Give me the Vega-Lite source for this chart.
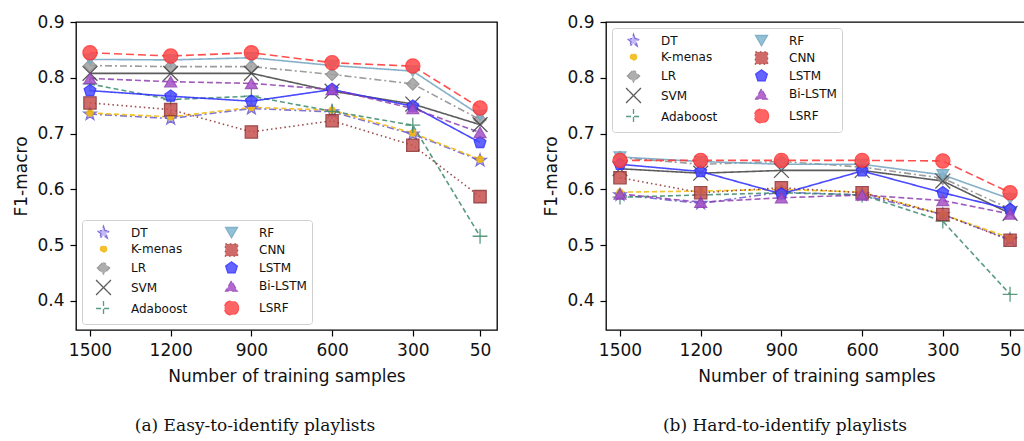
{
  "$schema": "https://vega.github.io/schema/vega-lite/v6.json",
  "background": "white",
  "padding": {"left": 12, "top": 12, "right": 0, "bottom": 0},
  "datasets": {
    "easy": [
      {"model": "DT", "n": 1500, "f1": 0.735}, {"model": "DT", "n": 1200, "f1": 0.727}, {"model": "DT", "n": 900, "f1": 0.745}, {"model": "DT", "n": 600, "f1": 0.739}, {"model": "DT", "n": 300, "f1": 0.699}, {"model": "DT", "n": 50, "f1": 0.652},
      {"model": "K-menas", "n": 1500, "f1": 0.737}, {"model": "K-menas", "n": 1200, "f1": 0.73}, {"model": "K-menas", "n": 900, "f1": 0.747}, {"model": "K-menas", "n": 600, "f1": 0.742}, {"model": "K-menas", "n": 300, "f1": 0.701}, {"model": "K-menas", "n": 50, "f1": 0.654},
      {"model": "LR", "n": 1500, "f1": 0.822}, {"model": "LR", "n": 1200, "f1": 0.82}, {"model": "LR", "n": 900, "f1": 0.82}, {"model": "LR", "n": 600, "f1": 0.806}, {"model": "LR", "n": 300, "f1": 0.789}, {"model": "LR", "n": 50, "f1": 0.725},
      {"model": "SVM", "n": 1500, "f1": 0.808}, {"model": "SVM", "n": 1200, "f1": 0.808}, {"model": "SVM", "n": 900, "f1": 0.808}, {"model": "SVM", "n": 600, "f1": 0.776}, {"model": "SVM", "n": 300, "f1": 0.753}, {"model": "SVM", "n": 50, "f1": 0.716},
      {"model": "Adaboost", "n": 1500, "f1": 0.789}, {"model": "Adaboost", "n": 1200, "f1": 0.761}, {"model": "Adaboost", "n": 900, "f1": 0.767}, {"model": "Adaboost", "n": 600, "f1": 0.74}, {"model": "Adaboost", "n": 300, "f1": 0.715}, {"model": "Adaboost", "n": 50, "f1": 0.516},
      {"model": "RF", "n": 1500, "f1": 0.833}, {"model": "RF", "n": 1200, "f1": 0.832}, {"model": "RF", "n": 900, "f1": 0.836}, {"model": "RF", "n": 600, "f1": 0.822}, {"model": "RF", "n": 300, "f1": 0.812}, {"model": "RF", "n": 50, "f1": 0.733},
      {"model": "CNN", "n": 1500, "f1": 0.755}, {"model": "CNN", "n": 1200, "f1": 0.743}, {"model": "CNN", "n": 900, "f1": 0.703}, {"model": "CNN", "n": 600, "f1": 0.723}, {"model": "CNN", "n": 300, "f1": 0.679}, {"model": "CNN", "n": 50, "f1": 0.587},
      {"model": "LSTM", "n": 1500, "f1": 0.777}, {"model": "LSTM", "n": 1200, "f1": 0.767}, {"model": "LSTM", "n": 900, "f1": 0.758}, {"model": "LSTM", "n": 600, "f1": 0.779}, {"model": "LSTM", "n": 300, "f1": 0.749}, {"model": "LSTM", "n": 50, "f1": 0.684},
      {"model": "Bi-LSTM", "n": 1500, "f1": 0.799}, {"model": "Bi-LSTM", "n": 1200, "f1": 0.793}, {"model": "Bi-LSTM", "n": 900, "f1": 0.79}, {"model": "Bi-LSTM", "n": 600, "f1": 0.779}, {"model": "Bi-LSTM", "n": 300, "f1": 0.745}, {"model": "Bi-LSTM", "n": 50, "f1": 0.702},
      {"model": "LSRF", "n": 1500, "f1": 0.845}, {"model": "LSRF", "n": 1200, "f1": 0.839}, {"model": "LSRF", "n": 900, "f1": 0.845}, {"model": "LSRF", "n": 600, "f1": 0.827}, {"model": "LSRF", "n": 300, "f1": 0.821}, {"model": "LSRF", "n": 50, "f1": 0.746}
    ],
    "hard": [
      {"model": "DT", "n": 1500, "f1": 0.59}, {"model": "DT", "n": 1200, "f1": 0.575}, {"model": "DT", "n": 900, "f1": 0.595}, {"model": "DT", "n": 600, "f1": 0.59}, {"model": "DT", "n": 300, "f1": 0.555}, {"model": "DT", "n": 50, "f1": 0.51},
      {"model": "K-menas", "n": 1500, "f1": 0.595}, {"model": "K-menas", "n": 1200, "f1": 0.597}, {"model": "K-menas", "n": 900, "f1": 0.6}, {"model": "K-menas", "n": 600, "f1": 0.595}, {"model": "K-menas", "n": 300, "f1": 0.555}, {"model": "K-menas", "n": 50, "f1": 0.513},
      {"model": "LR", "n": 1500, "f1": 0.657}, {"model": "LR", "n": 1200, "f1": 0.645}, {"model": "LR", "n": 900, "f1": 0.65}, {"model": "LR", "n": 600, "f1": 0.64}, {"model": "LR", "n": 300, "f1": 0.62}, {"model": "LR", "n": 50, "f1": 0.565},
      {"model": "SVM", "n": 1500, "f1": 0.637}, {"model": "SVM", "n": 1200, "f1": 0.629}, {"model": "SVM", "n": 900, "f1": 0.634}, {"model": "SVM", "n": 600, "f1": 0.634}, {"model": "SVM", "n": 300, "f1": 0.615}, {"model": "SVM", "n": 50, "f1": 0.557},
      {"model": "Adaboost", "n": 1500, "f1": 0.586}, {"model": "Adaboost", "n": 1200, "f1": 0.59}, {"model": "Adaboost", "n": 900, "f1": 0.594}, {"model": "Adaboost", "n": 600, "f1": 0.59}, {"model": "Adaboost", "n": 300, "f1": 0.543}, {"model": "Adaboost", "n": 50, "f1": 0.412},
      {"model": "RF", "n": 1500, "f1": 0.658}, {"model": "RF", "n": 1200, "f1": 0.65}, {"model": "RF", "n": 900, "f1": 0.645}, {"model": "RF", "n": 600, "f1": 0.645}, {"model": "RF", "n": 300, "f1": 0.626}, {"model": "RF", "n": 50, "f1": 0.583},
      {"model": "CNN", "n": 1500, "f1": 0.621}, {"model": "CNN", "n": 1200, "f1": 0.594}, {"model": "CNN", "n": 900, "f1": 0.603}, {"model": "CNN", "n": 600, "f1": 0.594}, {"model": "CNN", "n": 300, "f1": 0.555}, {"model": "CNN", "n": 50, "f1": 0.509},
      {"model": "LSTM", "n": 1500, "f1": 0.645}, {"model": "LSTM", "n": 1200, "f1": 0.632}, {"model": "LSTM", "n": 900, "f1": 0.592}, {"model": "LSTM", "n": 600, "f1": 0.633}, {"model": "LSTM", "n": 300, "f1": 0.594}, {"model": "LSTM", "n": 50, "f1": 0.564},
      {"model": "Bi-LSTM", "n": 1500, "f1": 0.592}, {"model": "Bi-LSTM", "n": 1200, "f1": 0.577}, {"model": "Bi-LSTM", "n": 900, "f1": 0.585}, {"model": "Bi-LSTM", "n": 600, "f1": 0.59}, {"model": "Bi-LSTM", "n": 300, "f1": 0.58}, {"model": "Bi-LSTM", "n": 50, "f1": 0.556},
      {"model": "LSRF", "n": 1500, "f1": 0.652}, {"model": "LSRF", "n": 1200, "f1": 0.652}, {"model": "LSRF", "n": 900, "f1": 0.652}, {"model": "LSRF", "n": 600, "f1": 0.652}, {"model": "LSRF", "n": 300, "f1": 0.651}, {"model": "LSRF", "n": 50, "f1": 0.594}
    ]
  },
  "config": {
    "view": {"stroke": "black", "strokeWidth": 1.3},
    "axis": {
      "grid": false, "domain": false, "ticks": true, "tickColor": "black", "tickSize": 6, "tickWidth": 1.2,
      "labelFont": "DejaVu Sans", "labelFontSize": 17, "labelColor": "#111", "labelPadding": 6,
      "titleFont": "DejaVu Sans", "titleFontSize": 17, "titleFontWeight": "normal", "titleColor": "#111"
    },
    "legend": {"title": null, "columns": 2, "labelFont": "DejaVu Sans", "labelFontSize": 12, "labelColor": "#111",
               "fillColor": "rgba(255,255,255,0.85)", "strokeColor": "#d0d0d0", "cornerRadius": 3, "padding": 5, "rowPadding": 0, "columnPadding": 27,
               "symbolOffset": 8, "labelOffset": 19, "symbolSize": 110, "symbolStrokeWidth": 1.3, "offset": 6},
    "title": {"font": "DejaVu Serif", "fontSize": 17, "fontWeight": "normal", "color": "#111", "orient": "bottom", "anchor": "middle", "frame": "bounds", "offset": 34}
  },
  "hconcat": [
    {
      "width": 421, "height": 308,
      "title": {"text": "(a)  Easy-to-identify playlists"},
      "data": {"name": "easy"},
      "encoding": {
        "x": {"field": "n", "type": "quantitative", "scale": {"domain": [-13, 1552], "reverse": true, "nice": false, "zero": false},
              "axis": {"values": [1500, 1200, 900, 600, 300, 50], "format": "d", "title": "Number of training samples", "titlePadding": 10}},
        "y": {"field": "f1", "type": "quantitative", "scale": {"domain": [0.348, 0.9], "nice": false, "zero": false},
              "axis": {"values": [0.4, 0.5, 0.6, 0.7, 0.8, 0.9], "format": ".1f", "title": "F1-macro", "titlePadding": 6}}
      },
      "layer": [
        {
          "mark": {"type": "line", "strokeWidth": 1.6, "opacity": 0.85},
          "encoding": {
            "stroke": {"field": "model", "type": "nominal",
              "scale": {"domain": ["DT", "K-menas", "LR", "SVM", "Adaboost", "RF", "CNN", "LSTM", "Bi-LSTM", "LSRF"],
                        "range": ["#6a5acd", "#f2b705", "#8c8c8c", "#404040", "#3b8a6a", "#6fa3bf", "#8b2e2e", "#2a2aff", "#8e3fb0", "#ff3030"]}},
            "strokeDash": {"field": "model", "type": "nominal", "legend": null,
              "scale": {"domain": ["DT", "K-menas", "LR", "SVM", "Adaboost", "RF", "CNN", "LSTM", "Bi-LSTM", "LSRF"],
                        "range": [[7, 3, 2, 3], [5, 3], [7, 3, 2, 3], [1, 0], [5, 3], [1, 0], [1.5, 3], [1, 0], [6, 3], [8, 4]]}}
          }
        },
        {
          "mark": {"type": "point", "filled": true, "opacity": 0.85, "strokeWidth": 1.3},
          "encoding": {
            "fill": {"field": "model", "type": "nominal",
              "scale": {"domain": ["DT", "K-menas", "LR", "SVM", "Adaboost", "RF", "CNN", "LSTM", "Bi-LSTM", "LSRF"],
                        "range": ["#b7aef5", "#f2b705", "#a0a0a0", "#404040", "#3b8a6a", "#7fb6d0", "#c8514f", "#4a4aff", "#a64fc8", "#ff4a4a"]},
              "legend": {"orient": "bottom-left"}},
            "stroke": {"field": "model", "type": "nominal",
              "scale": {"domain": ["DT", "K-menas", "LR", "SVM", "Adaboost", "RF", "CNN", "LSTM", "Bi-LSTM", "LSRF"],
                        "range": ["#6a5acd", "#f2b705", "#8c8c8c", "#404040", "#3b8a6a", "#6fa3bf", "#8b2e2e", "#2a2aff", "#8e3fb0", "#ff3030"]},
              "legend": {"orient": "bottom-left"}},
            "shape": {"field": "model", "type": "nominal",
              "scale": {"domain": ["DT", "K-menas", "LR", "SVM", "Adaboost", "RF", "CNN", "LSTM", "Bi-LSTM", "LSRF"],
                        "range": ["M0,-1L0.235,-0.324L0.951,-0.309L0.38,0.124L0.588,0.809L0,0.4L-0.588,0.809L-0.38,0.124L-0.951,-0.309L-0.235,-0.324Z", "circle", "diamond", "M-1,-1L1,1M-1,1L1,-1", "M0,-1L0,1M-1,0L1,0", "triangle-down", "square", "M0,-1L0.951,-0.309L0.588,0.809L-0.588,0.809L-0.951,-0.309Z", "triangle-up", "circle"]},
              "legend": {"orient": "bottom-left"}},
            "size": {"field": "model", "type": "nominal", "legend": null,
              "scale": {"type": "ordinal", "domain": ["DT", "K-menas", "LR", "SVM", "Adaboost", "RF", "CNN", "LSTM", "Bi-LSTM", "LSRF"],
                        "range": [170, 40, 150, 220, 220, 140, 150, 150, 140, 200]}}
          }
        }
      ]
    },
    {
      "width": 421, "height": 308,
      "title": {"text": "(b)  Hard-to-identify playlists"},
      "data": {"name": "hard"},
      "encoding": {
        "x": {"field": "n", "type": "quantitative", "scale": {"domain": [-13, 1552], "reverse": true, "nice": false, "zero": false},
              "axis": {"values": [1500, 1200, 900, 600, 300, 50], "format": "d", "title": "Number of training samples", "titlePadding": 10}},
        "y": {"field": "f1", "type": "quantitative", "scale": {"domain": [0.348, 0.9], "nice": false, "zero": false},
              "axis": {"values": [0.4, 0.5, 0.6, 0.7, 0.8, 0.9], "format": ".1f", "title": "F1-macro", "titlePadding": 6}}
      },
      "layer": [
        {
          "mark": {"type": "line", "strokeWidth": 1.6, "opacity": 0.85},
          "encoding": {
            "stroke": {"field": "model", "type": "nominal",
              "scale": {"domain": ["DT", "K-menas", "LR", "SVM", "Adaboost", "RF", "CNN", "LSTM", "Bi-LSTM", "LSRF"],
                        "range": ["#6a5acd", "#f2b705", "#8c8c8c", "#404040", "#3b8a6a", "#6fa3bf", "#8b2e2e", "#2a2aff", "#8e3fb0", "#ff3030"]}},
            "strokeDash": {"field": "model", "type": "nominal", "legend": null,
              "scale": {"domain": ["DT", "K-menas", "LR", "SVM", "Adaboost", "RF", "CNN", "LSTM", "Bi-LSTM", "LSRF"],
                        "range": [[7, 3, 2, 3], [5, 3], [7, 3, 2, 3], [1, 0], [5, 3], [1, 0], [1.5, 3], [1, 0], [6, 3], [8, 4]]}}
          }
        },
        {
          "mark": {"type": "point", "filled": true, "opacity": 0.85, "strokeWidth": 1.3},
          "encoding": {
            "fill": {"field": "model", "type": "nominal",
              "scale": {"domain": ["DT", "K-menas", "LR", "SVM", "Adaboost", "RF", "CNN", "LSTM", "Bi-LSTM", "LSRF"],
                        "range": ["#b7aef5", "#f2b705", "#a0a0a0", "#404040", "#3b8a6a", "#7fb6d0", "#c8514f", "#4a4aff", "#a64fc8", "#ff4a4a"]},
              "legend": {"orient": "top-left"}},
            "stroke": {"field": "model", "type": "nominal",
              "scale": {"domain": ["DT", "K-menas", "LR", "SVM", "Adaboost", "RF", "CNN", "LSTM", "Bi-LSTM", "LSRF"],
                        "range": ["#6a5acd", "#f2b705", "#8c8c8c", "#404040", "#3b8a6a", "#6fa3bf", "#8b2e2e", "#2a2aff", "#8e3fb0", "#ff3030"]},
              "legend": {"orient": "top-left"}},
            "shape": {"field": "model", "type": "nominal",
              "scale": {"domain": ["DT", "K-menas", "LR", "SVM", "Adaboost", "RF", "CNN", "LSTM", "Bi-LSTM", "LSRF"],
                        "range": ["M0,-1L0.235,-0.324L0.951,-0.309L0.38,0.124L0.588,0.809L0,0.4L-0.588,0.809L-0.38,0.124L-0.951,-0.309L-0.235,-0.324Z", "circle", "diamond", "M-1,-1L1,1M-1,1L1,-1", "M0,-1L0,1M-1,0L1,0", "triangle-down", "square", "M0,-1L0.951,-0.309L0.588,0.809L-0.588,0.809L-0.951,-0.309Z", "triangle-up", "circle"]},
              "legend": {"orient": "top-left"}},
            "size": {"field": "model", "type": "nominal", "legend": null,
              "scale": {"type": "ordinal", "domain": ["DT", "K-menas", "LR", "SVM", "Adaboost", "RF", "CNN", "LSTM", "Bi-LSTM", "LSRF"],
                        "range": [170, 40, 150, 220, 220, 140, 150, 150, 140, 200]}}
          }
        }
      ]
    }
  ],
  "spacing": 109,
  "bounds": "flush",
  "resolve": {
    "scale": {"fill": "independent", "stroke": "independent", "shape": "independent", "size": "independent", "strokeDash": "independent"}
  }
}
